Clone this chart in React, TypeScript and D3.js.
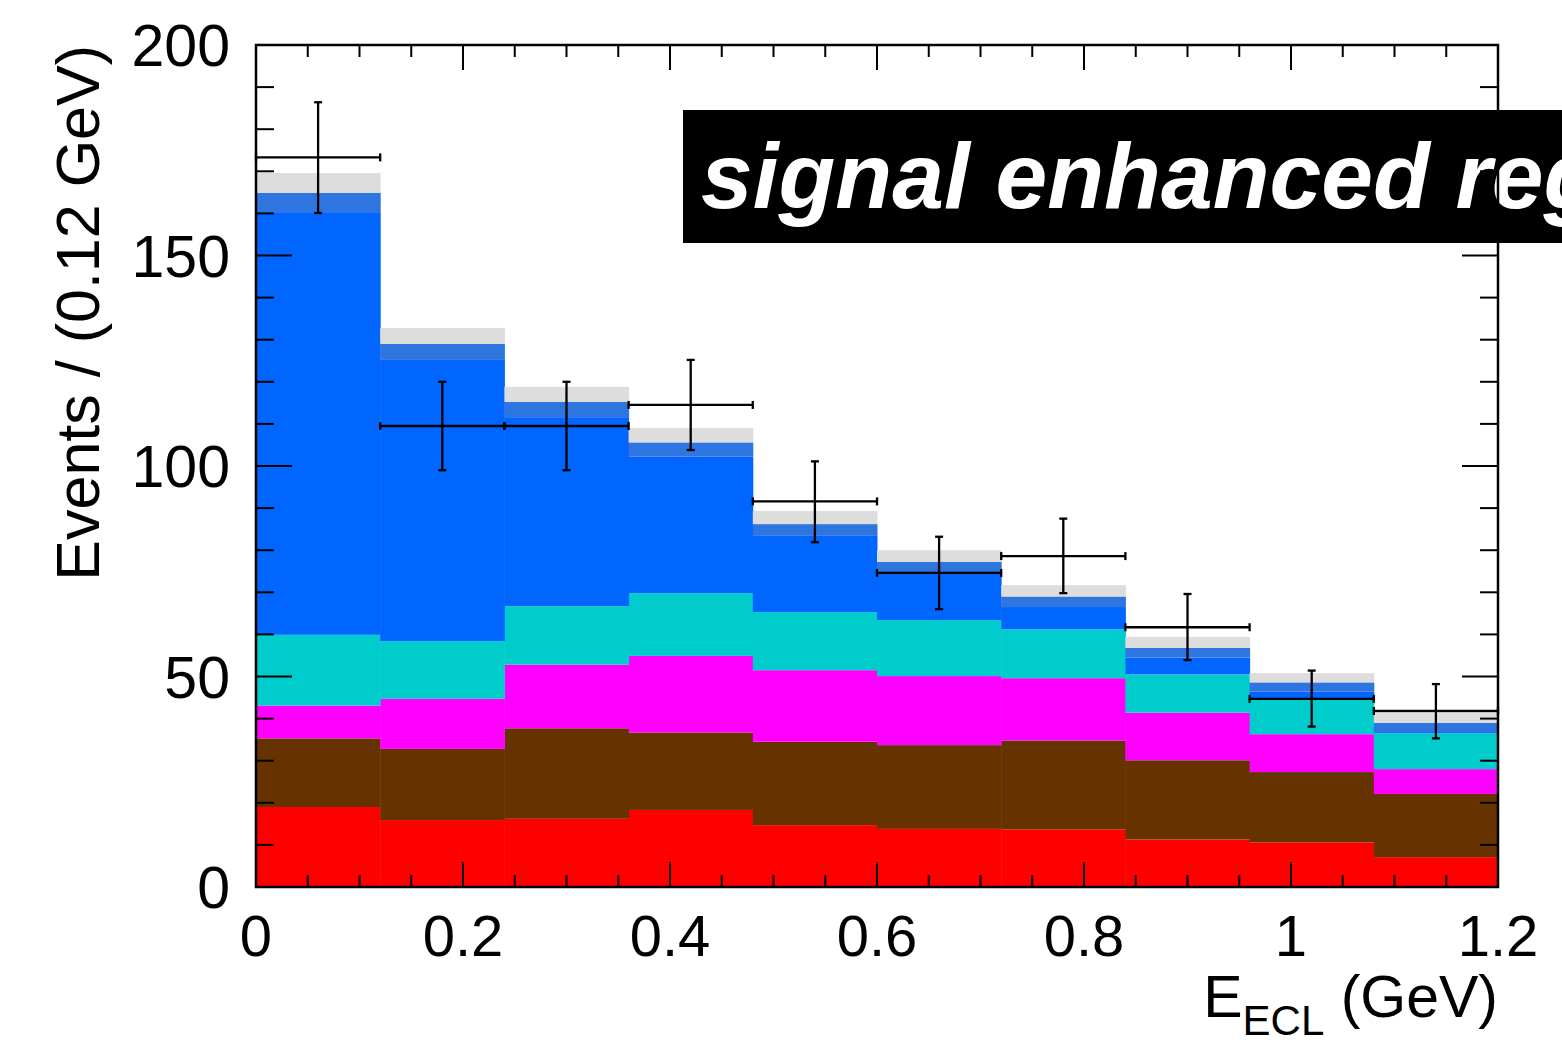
import React, { useRef, useEffect } from 'react'
import * as d3 from 'd3'

// bin lower edges (GeV), width 0.12
const binEdges = [0, 0.12, 0.24, 0.36, 0.48, 0.6, 0.72, 0.84, 0.96, 1.08]
const binWidth = 0.12

// stacked components, bottom to top
const redComp = [19.0, 15.9, 16.2, 18.3, 14.7, 13.8, 13.7, 11.3, 10.6, 7.1]
const brownComp = [16.3, 16.9, 21.5, 18.4, 19.8, 19.9, 21.1, 18.8, 16.7, 15.0]
const magentaComp = [7.8, 11.9, 15.1, 18.2, 17.0, 16.4, 14.8, 11.3, 9.0, 5.9]
const cyanComp = [16.8, 13.7, 13.9, 14.9, 13.8, 13.3, 11.6, 9.1, 8.3, 8.5]
const blueComp = [100.4, 66.8, 44.9, 32.4, 18.1, 11.0, 5.3, 4.0, 1.8, 0.3]
const lightBlueComp = [4.6, 3.8, 3.6, 3.4, 2.8, 2.8, 2.5, 2.3, 2.2, 2.2]
const grayComp = [4.7, 3.8, 3.6, 3.4, 3.1, 2.8, 2.7, 2.6, 2.2, 2.3]

// data points with asymmetric errors
const dataVals = [173.3, 109.5, 109.5, 114.5, 91.6, 74.6, 78.6, 61.7, 44.7, 41.8]
const errHigh = [186.4, 120.0, 120.0, 125.2, 101.1, 83.2, 87.5, 69.6, 51.4, 48.2]
const errLow = [160.1, 99.0, 99.0, 103.8, 81.9, 66.0, 69.8, 53.9, 38.1, 35.3]

const yTicks = [0, 50, 100, 150, 200]
const xTicks = [0, 0.2, 0.4, 0.6, 0.8, 1, 1.2]

const compKeys = ['red', 'brown', 'magenta', 'cyan', 'blue', 'lightBlue', 'gray']
const compColors = ['#ff0000', '#663300', '#ff00ff', '#00cccc', '#0066ff', '#2e75e0', '#dddddd']

const App = () => {
    const ref = useRef<SVGSVGElement>(null)
    useEffect(() => {
        const W = 1562
        const H = 1052
        const left = 256, right = 1498, top = 45, bottom = 887
        const font = 'Liberation Sans, Arial, Helvetica, sans-serif'

        const svg = d3.select(ref.current)
            .attr('width', W)
            .attr('height', H)
        svg.selectAll('*').remove()

        const x = d3.scaleLinear().domain([0, 1.2]).range([left, right])
        const y = d3.scaleLinear().domain([0, 200]).range([bottom, top])

        // stack table
        const rows = binEdges.map((e, i) => ({
            lo: e,
            red: redComp[i],
            brown: brownComp[i],
            magenta: magentaComp[i],
            cyan: cyanComp[i],
            blue: blueComp[i],
            lightBlue: lightBlueComp[i],
            gray: grayComp[i],
        }))
        const stacked = d3.stack<any>().keys(compKeys)(rows)

        const hist = svg.append('g')
        stacked.forEach((layer, li) => {
            hist.selectAll(null)
                .data(layer)
                .enter().append('rect')
                .attr('x', d => x(d.data.lo))
                .attr('width', d => x(d.data.lo + binWidth) - x(d.data.lo) + 0.5)
                .attr('y', d => y(d[1]))
                .attr('height', d => y(d[0]) - y(d[1]))
                .attr('fill', compColors[li])
        })

        // label box
        svg.append('rect')
            .attr('x', 683)
            .attr('y', 110)
            .attr('width', 1000)
            .attr('height', 133)
            .attr('fill', 'black')
        svg.append('text')
            .attr('x', 701)
            .attr('y', 208)
            .attr('fill', 'white')
            .style('font-family', font)
            .style('font-weight', 'bold')
            .style('font-style', 'italic')
            .style('font-size', '93px')
            .text('signal enhanced region')

        // data points
        const pts = svg.append('g')
            .attr('stroke', 'black')
            .attr('stroke-width', 2.3)
        binEdges.forEach((e, i) => {
            const x0 = x(e), x1 = x(e + binWidth), xc = x(e + binWidth / 2)
            const yv = y(dataVals[i]), yh = y(errHigh[i]), yl = y(errLow[i])
            pts.append('line').attr('x1', x0).attr('x2', x1).attr('y1', yv).attr('y2', yv)
            pts.append('line').attr('x1', x0).attr('x2', x0).attr('y1', yv - 4).attr('y2', yv + 4)
            pts.append('line').attr('x1', x1).attr('x2', x1).attr('y1', yv - 4).attr('y2', yv + 4)
            pts.append('line').attr('x1', xc).attr('x2', xc).attr('y1', yh).attr('y2', yl)
            pts.append('line').attr('x1', xc - 4).attr('x2', xc + 4).attr('y1', yh).attr('y2', yh)
            pts.append('line').attr('x1', xc - 4).attr('x2', xc + 4).attr('y1', yl).attr('y2', yl)
        })

        // ticks (ROOT style, on all four sides)
        const tk = svg.append('g').attr('stroke', 'black').attr('stroke-width', 2)
        const yMinor = d3.range(0, 201, 10)
        yMinor.forEach(v => {
            const len = v % 50 === 0 ? 36 : 18
            tk.append('line').attr('x1', left).attr('x2', left + len).attr('y1', y(v)).attr('y2', y(v))
            tk.append('line').attr('x1', right).attr('x2', right - len).attr('y1', y(v)).attr('y2', y(v))
        })
        const xMinor = d3.range(0, 25).map(k => k * 0.05)
        xMinor.forEach((v, k) => {
            const len = k % 4 === 0 ? 25 : 12
            tk.append('line').attr('x1', x(v)).attr('x2', x(v)).attr('y1', bottom).attr('y2', bottom - len)
            tk.append('line').attr('x1', x(v)).attr('x2', x(v)).attr('y1', top).attr('y2', top + len)
        })

        // frame
        svg.append('rect')
            .attr('x', left)
            .attr('y', top)
            .attr('width', right - left)
            .attr('height', bottom - top)
            .attr('fill', 'none')
            .attr('stroke', 'black')
            .attr('stroke-width', 2.5)

        // tick labels
        svg.append('g').selectAll('text')
            .data(yTicks)
            .enter().append('text')
            .attr('x', 230)
            .attr('y', d => y(d) + 21)
            .attr('text-anchor', 'end')
            .style('font-family', font)
            .style('font-size', '59px')
            .text(d => d)
        svg.append('g').selectAll('text')
            .data(xTicks)
            .enter().append('text')
            .attr('x', d => x(d))
            .attr('y', 956)
            .attr('text-anchor', 'middle')
            .style('font-family', font)
            .style('font-size', '58px')
            .text(d => d3.format('~g')(d))

        // axis titles
        svg.append('text')
            .attr('transform', 'translate(99, 45) rotate(-90)')
            .attr('text-anchor', 'end')
            .style('font-family', font)
            .style('font-size', '61px')
            .text('Events / (0.12 GeV)')

        const xt = svg.append('text')
            .attr('x', 1498)
            .attr('y', 1017)
            .attr('text-anchor', 'end')
            .style('font-family', font)
            .style('font-size', '59px')
        xt.append('tspan').text('E')
        xt.append('tspan').attr('dy', 18).style('font-size', '42px').text('ECL')
        xt.append('tspan').attr('dy', -18).text(' (GeV)')
    }, [])
    return (
        <svg ref={ref} style={{ position: 'absolute', left: 0, top: 0 }}></svg>
    )
}

export default App
